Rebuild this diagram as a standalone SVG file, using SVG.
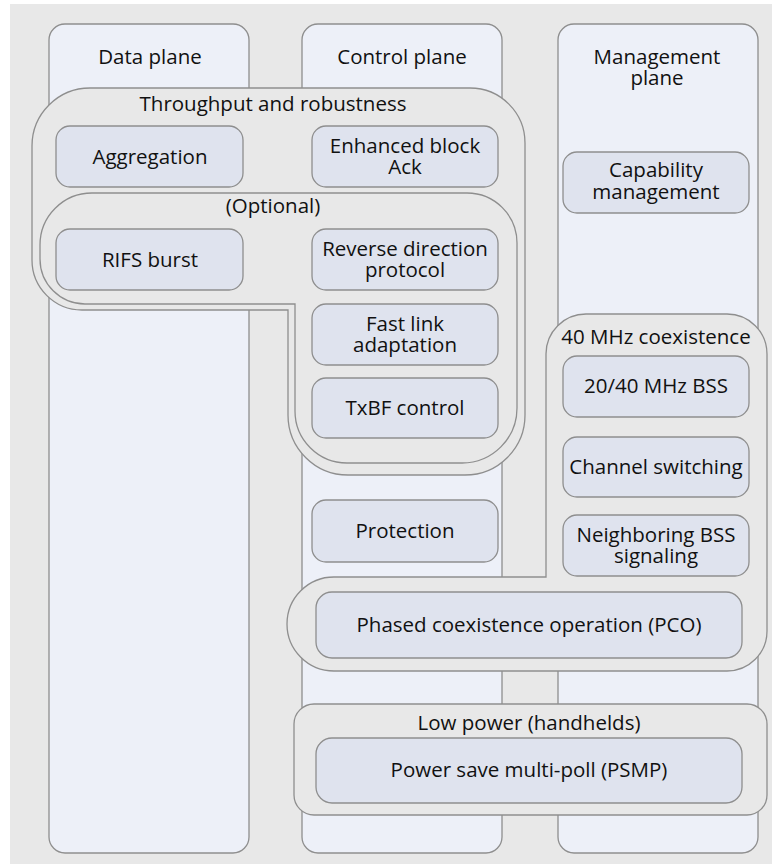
<svg xmlns="http://www.w3.org/2000/svg" width="772" height="865" viewBox="0 0 772 865">
<style>
.bg{fill:#e8e8e8}
.col{fill:#edf0f8;stroke:#8e8e8e;stroke-width:1.3}
.grp{fill:#e8e8e8;stroke:#8e8e8e;stroke-width:1.3}
.node{fill:#dfe3ee;stroke:#8e8e8e;stroke-width:1.3}
text{font-family:"Open Sans","Noto Sans","Liberation Sans",sans-serif;font-size:20.5px;fill:#111111;text-anchor:middle}
</style>
<rect x="0" y="0" width="772" height="865" fill="#ffffff"/>
<rect class="bg" x="10" y="4" width="762" height="860"/>
<g id="data-plane">
<rect class="col" x="49" y="24" width="200" height="829" rx="16"/>
</g>
<g id="control-plane">
<rect class="col" x="302" y="24" width="200" height="829" rx="16"/>
</g>
<g id="management-plane">
<rect class="col" x="558" y="24" width="200" height="829" rx="16"/>
</g>
<g id="throughput-group">
<path class="grp" d="M 90 88 L 470 88 A 55 55 0 0 1 525 143 L 525 415 A 60 60 0 0 1 465 475 L 348 475 A 60 60 0 0 1 288 415 L 288 310 L 82 310 A 50 50 0 0 1 32 260 L 32 146 A 58 58 0 0 1 90 88 Z"/>
</g>
<g id="optional-group">
<path class="grp" d="M 92 193 L 467 193 A 50 50 0 0 1 517 243 L 517 408 A 55 55 0 0 1 462 463 L 347 463 A 52 52 0 0 1 295 411 L 295 304 L 85 304 A 45 45 0 0 1 40 259 L 40 245 A 52 52 0 0 1 92 193 Z"/>
</g>
<g id="coexistence-group">
<path class="grp" d="M 546 577 L 546 354 A 40 40 0 0 1 586 314 L 727 314 A 40 40 0 0 1 767 354 L 767 631 A 40 40 0 0 1 727 671 L 334 671 A 47 47 0 0 1 334 577 Z"/>
</g>
<g id="lowpower-group">
<rect class="grp" x="294" y="704" width="473" height="111" rx="20"/>
</g>
<g id="connectors"></g>
<g id="titles">
<text x="150" y="64">Data plane</text>
<text x="402" y="64">Control plane</text>
<text x="657" y="64">Management<tspan x="657" y="85">plane</tspan></text>
<text x="273" y="111">Throughput and robustness</text>
<text x="273" y="213">(Optional)</text>
<text x="656" y="344">40 MHz coexistence</text>
<text x="529" y="730">Low power (handhelds)</text>
</g>
<g id="aggregation">
<rect class="node" x="56" y="126" width="187" height="61" rx="14"/>
<text x="150" y="164">Aggregation</text>
</g>
<g id="enhanced-block-ack">
<rect class="node" x="312" y="126" width="186" height="61" rx="14"/>
<text x="405" y="153">Enhanced block<tspan x="405" y="174">Ack</tspan></text>
</g>
<g id="rifs-burst">
<rect class="node" x="56" y="229" width="187" height="61" rx="14"/>
<text x="150" y="267">RIFS burst</text>
</g>
<g id="reverse-direction">
<rect class="node" x="312" y="229" width="186" height="61" rx="14"/>
<text x="405" y="256">Reverse direction<tspan x="405" y="277">protocol</tspan></text>
</g>
<g id="fast-link">
<rect class="node" x="312" y="304" width="186" height="61" rx="14"/>
<text x="405" y="331">Fast link<tspan x="405" y="352">adaptation</tspan></text>
</g>
<g id="txbf">
<rect class="node" x="312" y="378" width="186" height="60" rx="14"/>
<text x="405" y="415">TxBF control</text>
</g>
<g id="protection">
<rect class="node" x="312" y="500" width="186" height="62" rx="14"/>
<text x="405" y="538">Protection</text>
</g>
<g id="capability">
<rect class="node" x="563" y="152" width="186" height="61" rx="14"/>
<text x="656" y="177">Capability<tspan x="656" y="199">management</tspan></text>
</g>
<g id="bss2040">
<rect class="node" x="563" y="356" width="186" height="61" rx="14"/>
<text x="656" y="393">20/40 MHz BSS</text>
</g>
<g id="channel-switching">
<rect class="node" x="563" y="437" width="186" height="60" rx="14"/>
<text x="656" y="474">Channel switching</text>
</g>
<g id="neighboring-bss">
<rect class="node" x="563" y="515" width="186" height="61" rx="14"/>
<text x="656" y="542">Neighboring BSS<tspan x="656" y="563">signaling</tspan></text>
</g>
<g id="pco">
<rect class="node" x="316" y="592" width="426" height="66" rx="16"/>
<text x="529" y="632">Phased coexistence operation (PCO)</text>
</g>
<g id="psmp">
<rect class="node" x="316" y="738" width="426" height="65" rx="16"/>
<text x="529" y="777">Power save multi-poll (PSMP)</text>
</g>
</svg>
